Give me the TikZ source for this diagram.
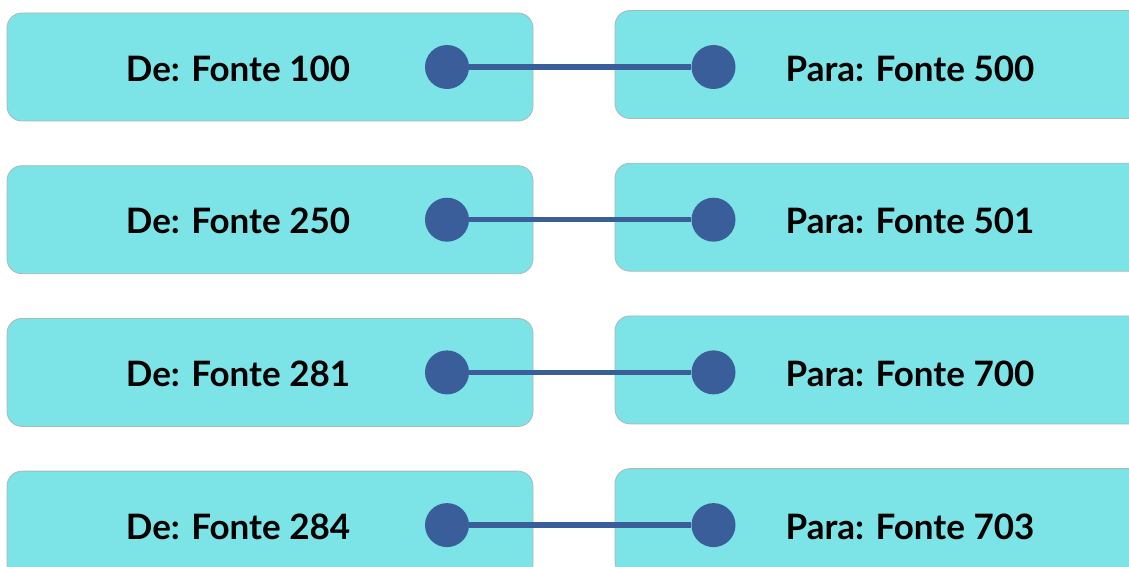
\documentclass[tikz,border=0pt]{standalone}
\usepackage{fontspec}
\setmainfont{Lato}
\usetikzlibrary{positioning}
\definecolor{corcaixa}{HTML}{7CE3E6}
\definecolor{corponto}{HTML}{3A5E99}
\definecolor{corborda}{HTML}{A9B9BA}

\begin{document}
\begin{tikzpicture}
            [
                x=1pt, y=-1pt,
                caixa/.style={draw=corborda, line width=0.8pt, fill=corcaixa,
                    rounded corners=15pt, minimum width=526pt,
                    minimum height=108pt, inner sep=0pt},
                rotulo/.style={font=\fontsize{35}{42}\selectfont\bfseries},
                ponto/.style={circle, fill=corponto, minimum size=44pt,
                    inner sep=0pt},
                ligacao/.style={draw=corponto, line width=5.5pt}
            ]

            \useasboundingbox (0,0) rectangle (1129,567);
            \clip (0,0) rectangle (1129,567);

            \foreach \i/\de/\para in {0/100/500, 1/250/501, 2/281/700, 3/284/703}
            {
                \node[caixa] (de\i) at (270,{67+152.7*\i}) {};
                \node[caixa, minimum width=540pt] (para\i) at (885,{64.5+152.7*\i}) {};
                \node[rotulo] (tde\i) at (238,{68.5+152.7*\i}) {De: Fonte \de};
                \node[rotulo] (tpara\i) at (910,{68.5+152.7*\i}) {Para: Fonte \para};
                \node[ponto] (pde\i) at (447,{67+152.7*\i}) {};
                \node[ponto] (ppara\i) at (713.5,{67+152.7*\i}) {};
                \draw[ligacao] (pde\i) -- (ppara\i);
            }
        \end{tikzpicture}
\end{document}
